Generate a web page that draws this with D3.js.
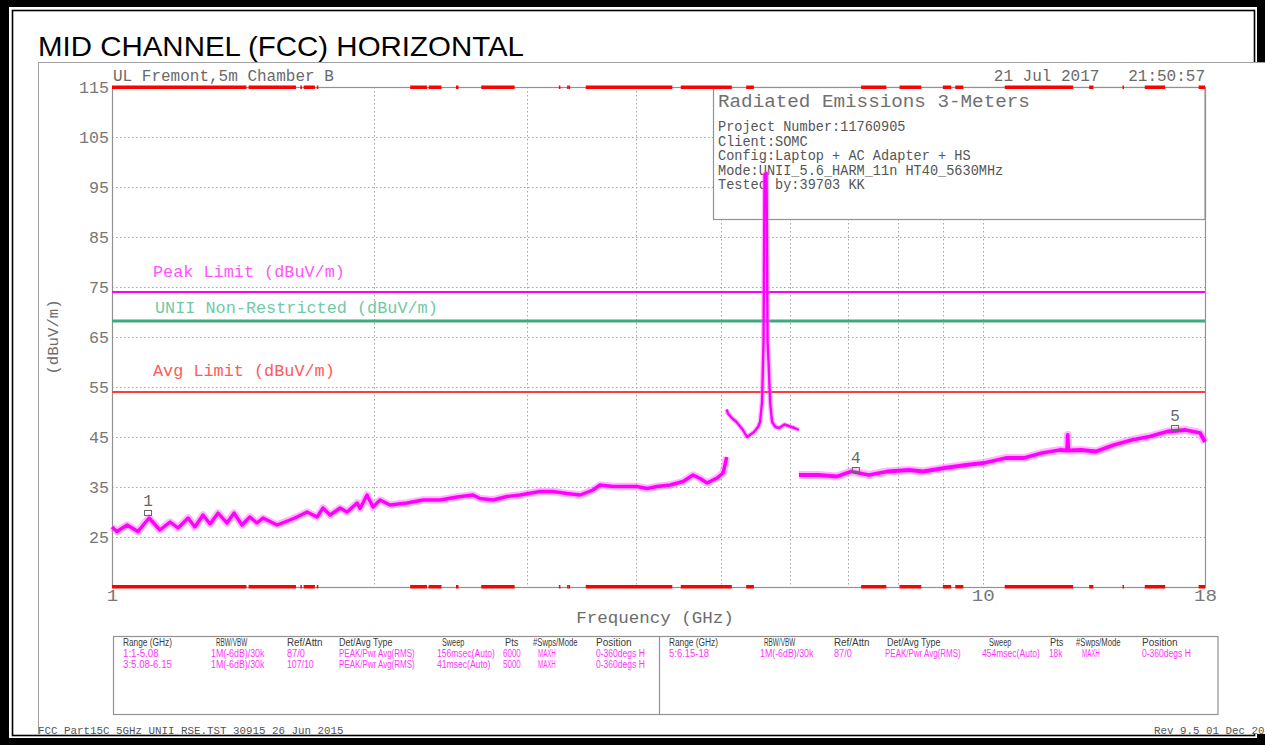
<!DOCTYPE html>
<html><head><meta charset="utf-8">
<script src="https://cdn.jsdelivr.net/npm/d3@7"></script>
<style>body{margin:0;background:#fff;overflow:hidden}svg{display:block}text{white-space:pre}</style>
</head><body><svg id="c" width="1265" height="745"></svg>
<script>
// ---------------- data ----------------
const yTicks = [115, 105, 95, 85, 75, 65, 55, 45, 35, 25];
const yGrid = [105, 95, 85, 75, 65, 55, 45, 35, 25];
const xGrid = [2, 3, 4, 5, 6, 7, 8, 9, 10];
const xTickLabels = [1, 10, 18];

// range 1: 1 - 5.08 GHz
const seg1Freq = [1.000,1.013,1.041,1.071,1.103,1.135,1.166,1.191,1.223,1.245,1.272,1.296,1.324,1.355,1.381,1.410,1.440,1.467,1.491,1.547,1.601,1.631,1.675,1.720,1.747,1.780,1.828,1.862,1.912,1.927,1.963,1.994,2.032,2.086,2.182,2.276,2.381,2.491,2.598,2.647,2.739,2.842,2.942,3.101,3.209,3.332,3.448,3.568,3.635,3.762,3.904,4.008,4.116,4.226,4.375,4.528,4.649,4.736,4.824,4.954,5.033,5.073,5.08];
const seg1Level = [27.0,26.1,27.4,26.1,28.8,26.4,28.0,26.8,28.8,27.0,29.4,27.6,29.8,27.8,29.8,27.4,29.0,27.8,28.8,27.4,28.4,29.0,30.0,29.0,30.8,29.4,30.8,30.0,31.8,30.7,33.4,31.0,32.4,31.4,31.8,32.4,32.4,33.0,33.4,32.7,32.4,33.1,33.4,34.1,34.1,33.7,33.4,34.4,35.4,35.1,35.1,35.1,34.7,35.1,35.4,36.1,37.4,36.7,35.8,36.8,37.8,40.4,41.0];
// range 3: 5.08 - 6.15 GHz (carrier 5630 MHz)
const seg2Freq = [5.08,5.099,5.150,5.208,5.30,5.362,5.462,5.52,5.550,5.579,5.601,5.616,5.646,5.661,5.676,5.699,5.729,5.78,5.836,5.92,6.009,6.08,6.15];
const seg2Level = [50.5,49.7,48.8,48.1,46.5,45.0,46.0,47.0,48.0,52.0,64.0,97.5,97.8,64.0,60.0,52.0,48.0,47.0,46.8,47.5,47.1,46.8,46.4];
// range 5: 6.15 - 18 GHz
const seg3Freq = [6.15,6.48,6.80,7.06,7.40,7.77,8.23,8.54,9.04,9.57,10.03,10.63,11.15,11.69,12.26,12.50,12.52,12.54,12.97,13.49,14.14,14.83,15.55,16.30,17.10,17.77,18.0];
const seg3Level = [37.4,37.4,37.1,38.1,37.4,38.1,38.4,38.1,38.8,39.4,39.8,40.8,40.8,41.8,42.4,42.3,45.4,42.3,42.4,42.1,43.4,44.4,45.1,46.1,46.4,45.8,44.0];

const limitNames = ["Peak Limit (dBuV/m)", "UNII Non-Restricted (dBuV/m)", "Avg Limit (dBuV/m)"];
const limitValues = [74, 68.2, 54];

const bandStart = [1.0,1.435,1.6455,1.66,1.7188,2.2,2.31,2.4835,2.655,3.26,3.332,3.345,3.5,4.5,5.35,7.25,8.025,9.0,9.3,10.6,13.25,14.47,15.35,17.7];
const bandEnd   = [1.427,1.6265,1.6485,1.71,1.7222,2.3,2.39,2.5,2.9,3.267,3.339,3.358,4.4,5.15,5.46,7.75,8.5,9.2,9.5,12.7,13.4,14.5,16.2,18.0];

const markerIds = ["1", "4", "5"];
const markerFreq = [1.10, 7.15, 16.63];
const markerLevel = [29.8, 38.4, 46.8];

const infoLines = ["Project Number:11760905", "Client:SOMC", "Config:Laptop + AC Adapter + HS", "Mode:UNII_5.6_HARM_11n HT40_5630MHz", "Tested by:39703 KK"];

const tableHeaders = ["Range (GHz)", "RBW/VBW", "Ref/Attn", "Det/Avg Type", "Sweep", "Pts", "#Swps/Mode", "Position"];
const tableRowsLeft = [
  ["1:1-5.08", "1M(-6dB)/30k", "87/0", "PEAK/Pwr Avg(RMS)", "156msec(Auto)", "6000", "MAXH", "0-360degs H"],
  ["3:5.08-6.15", "1M(-6dB)/30k", "107/10", "PEAK/Pwr Avg(RMS)", "41msec(Auto)", "5000", "MAXH", "0-360degs H"]
];
const tableRowsRight = [
  ["5:6.15-18", "1M(-6dB)/30k", "87/0", "PEAK/Pwr Avg(RMS)", "454msec(Auto)", "18k", "MAXH", "0-360degs H"]
];

// ---------------- drawing ----------------
const svg = d3.select("#c");
const W = 1265, H = 745;
const L = 112, R = 1205, T = 87, B = 587;
const x = d3.scaleLog().domain([1, 18]).range([L, R]);
const y = d3.scaleLinear().domain([15, 115]).range([B, T]);
const MONO = "Liberation Mono, DejaVu Sans Mono, monospace";

function txt(g, px, py, s, o) {
  const t = g.append("text").attr("x", px).attr("y", py).text(s)
    .attr("font-family", o.ff || MONO).attr("font-size", o.fs).attr("fill", o.fill || "#6a6a6a");
  if (o.cw) t.attr("textLength", o.tl || s.length * o.cw).attr("lengthAdjust", "spacingAndGlyphs");
  if (o.anchor) t.attr("text-anchor", o.anchor);
  return t;
}

// outer frame
svg.append("rect").attr("width", W).attr("height", H).attr("fill", "#000");
svg.append("rect").attr("x", 9).attr("y", 7).attr("width", 1248).attr("height", 731).attr("fill", "#fff");
svg.append("rect").attr("x", 12.5).attr("y", 10.5).attr("width", 1242).attr("height", 725).attr("fill", "none").attr("stroke", "#000").attr("stroke-width", 1.6);

// title
txt(svg, 38, 56, "MID CHANNEL (FCC) HORIZONTAL", {ff: "Liberation Sans, Arial, sans-serif", fs: 28, fill: "#000", cw: 1, tl: 486});

// plot image area
svg.append("rect").attr("x", 38).attr("y", 62).attr("width", W - 38).attr("height", 672).attr("fill", "#fff");
svg.append("line").attr("x1", 38).attr("x2", W).attr("y1", 62.5).attr("y2", 62.5).attr("stroke", "#a0a0a0");
svg.append("line").attr("x1", 38.5).attr("x2", 38.5).attr("y1", 62).attr("y2", 734).attr("stroke", "#a0a0a0");

// header texts
txt(svg, 113, 81, "UL Fremont,5m Chamber B", {fs: 16, cw: 9.6});
txt(svg, R, 81, "21 Jul 2017   21:50:57", {fs: 16, cw: 9.6, anchor: "end"});

// grid
const grid = svg.append("g").attr("stroke", "#a4a4a4").attr("stroke-dasharray", "1.5,2.5").attr("stroke-width", 1);
grid.selectAll("line.h").data(yGrid).join("line").attr("class", "h")
  .attr("x1", L).attr("x2", R).attr("y1", d => Math.round(y(d)) + 0.5).attr("y2", d => Math.round(y(d)) + 0.5);
grid.selectAll("line.v").data(xGrid).join("line").attr("class", "v")
  .attr("x1", d => Math.round(x(d)) + 0.5).attr("x2", d => Math.round(x(d)) + 0.5).attr("y1", T).attr("y2", B);

// frame of plot
svg.append("rect").attr("x", L + 0.5).attr("y", T + 0.5).attr("width", R - L).attr("height", B - T)
  .attr("fill", "none").attr("stroke", "#929292").attr("stroke-width", 1.2);

// axes
const yAx = svg.append("g").attr("transform", `translate(${L},0)`)
  .call(d3.axisLeft(y).tickValues(yTicks).tickSize(0).tickPadding(3).tickFormat(d3.format("d")));
yAx.select(".domain").remove();
yAx.selectAll("text").attr("font-family", MONO).attr("font-size", 16).attr("fill", "#777")
  .attr("dy", "0.36em").each(function (d) { d3.select(this).attr("textLength", String(d).length * 10).attr("lengthAdjust", "spacingAndGlyphs"); });

const xAx = svg.append("g").attr("transform", `translate(0,${B})`)
  .call(d3.axisBottom(x).tickValues(xTickLabels).tickSize(0).tickPadding(2).tickFormat(d3.format("d")));
xAx.select(".domain").remove();
xAx.selectAll("text").attr("font-family", MONO).attr("font-size", 17).attr("fill", "#777")
  .each(function (d) { d3.select(this).attr("textLength", String(d).length * 11.5).attr("lengthAdjust", "spacingAndGlyphs"); });

txt(svg, 655, 623, "Frequency (GHz)", {fs: 17, cw: 10.5, anchor: "middle", fill: "#6c6c6c"});
txt(svg, 0, 0, "(dBuV/m)", {fs: 14, cw: 9.4, anchor: "middle", fill: "#6c6c6c"})
  .attr("transform", "translate(58,337) rotate(-90)");

// limit lines
const limColors = ["#ff00ff", "#3faa80", "#ff3b3b"];
const limLabelColors = ["#ff55ff", "#72c9a6", "#ff5a5a"];
const limWidths = [2, 3, 2];
const limOffsets = [-15, -8, -16];
const limX = [153, 155, 153];
limitValues.forEach((v, i) => {
  svg.append("line").attr("x1", L).attr("x2", R).attr("y1", y(v)).attr("y2", y(v))
    .attr("stroke", limColors[i]).attr("stroke-width", limWidths[i]);
  txt(svg, limX[i], y(v) + limOffsets[i], limitNames[i], {fs: 16, cw: 10.1, fill: limLabelColors[i]});
});

// info box
svg.append("rect").attr("x", 713.5).attr("y", T + 0.5).attr("width", R - 713.5).attr("height", 132)
  .attr("fill", "#fff").attr("stroke", "#929292").attr("stroke-width", 1.2);
txt(svg, 718, 107, "Radiated Emissions 3-Meters", {fs: 18, cw: 11.55, fill: "#707070"});
const infoY = [131, 146, 160, 175, 189];
infoLines.forEach((s, i) => txt(svg, 718, infoY[i], s, {fs: 14, cw: 8.15, fill: "#555"}));

// restricted band bars (top & bottom)
const bars = svg.append("g").attr("fill", "#ff0000");
[T - 1.5, B - 2].forEach(yy => {
  bars.selectAll(null).data(bandStart).join("rect")
    .attr("x", (d) => x(d)).attr("width", (d, i) => Math.max(1.5, x(bandEnd[i]) - x(d)))
    .attr("y", yy).attr("height", 3.5);
});

// traces
const line = d3.line().x(d => x(d[0])).y(d => y(d[1]));
const segs = [[seg1Freq, seg1Level], [seg2Freq, seg2Level], [seg3Freq, seg3Level]];
const haloW = [7.5, 5, 8], coreW = [3.4, 2.4, 3.8];
const tr = svg.append("g").attr("fill", "none").attr("stroke-linejoin", "round");
segs.forEach(([f, l], k) => {
  const pts = f.map((v, i) => [v, l[i]]);
  tr.append("path").attr("d", line(pts)).attr("stroke", "#ff66ff").attr("stroke-width", haloW[k]).attr("stroke-opacity", 0.45);
  tr.append("path").attr("d", line(pts)).attr("stroke", "#ff00ff").attr("stroke-width", coreW[k]);
});

// markers
markerIds.forEach((id, i) => {
  const mx = x(markerFreq[i]), my = y(markerLevel[i]);
  svg.append("rect").attr("x", mx - 3.5).attr("y", my - 2.5).attr("width", 7).attr("height", 5)
    .attr("fill", "none").attr("stroke", "#666").attr("stroke-width", 1);
  txt(svg, mx, my - 7, id, {fs: 16, anchor: "middle", fill: "#666"});
});

// settings table
const tb = svg.append("g");
tb.append("rect").attr("x", 113.5).attr("y", 636.5).attr("width", 1218 - 113.5).attr("height", 78)
  .attr("fill", "#fff").attr("stroke", "#929292").attr("stroke-width", 1.2);
tb.append("line").attr("x1", 659.5).attr("x2", 659.5).attr("y1", 636.5).attr("y2", 714.5).attr("stroke", "#929292").attr("stroke-width", 1.2);
const colL = [123, 211, 287, 339, 437, 503, 538, 596];
const hdrL = [123, 216, 287, 339, 442, 505, 533, 596];
const colR = [669, 760, 834, 885, 982, 1049, 1082, 1142];
const hdrR = [669, 764, 834, 887, 989, 1050, 1076, 1142];
const NAR = "Liberation Sans Narrow, Liberation Sans, Arial, sans-serif";
function cell(px, py, s, col) {
  txt(tb, px, py, s, {ff: NAR, fs: 10, cw: 4.45, fill: col});
}
tableHeaders.forEach((h, i) => { cell(hdrL[i], 646, h, "#3a3a3a"); cell(hdrR[i], 646, h, "#3a3a3a"); });
tableRowsLeft.forEach((row, r) => row.forEach((s, i) => cell(colL[i], 657 + r * 10.5, s, "#ff33ff")));
tableRowsRight.forEach((row, r) => row.forEach((s, i) => cell(colR[i], 657 + r * 10.5, s, "#ff33ff")));

// footer
txt(svg, 38, 734, "FCC Part15C 5GHz UNII RSE.TST 30915 26 Jun 2015", {fs: 11, cw: 6.5, fill: "#555"});
txt(svg, 1154, 734, "Rev 9.5 01 Dec 20", {fs: 11, cw: 6.5, fill: "#555"});
</script></body></html>
